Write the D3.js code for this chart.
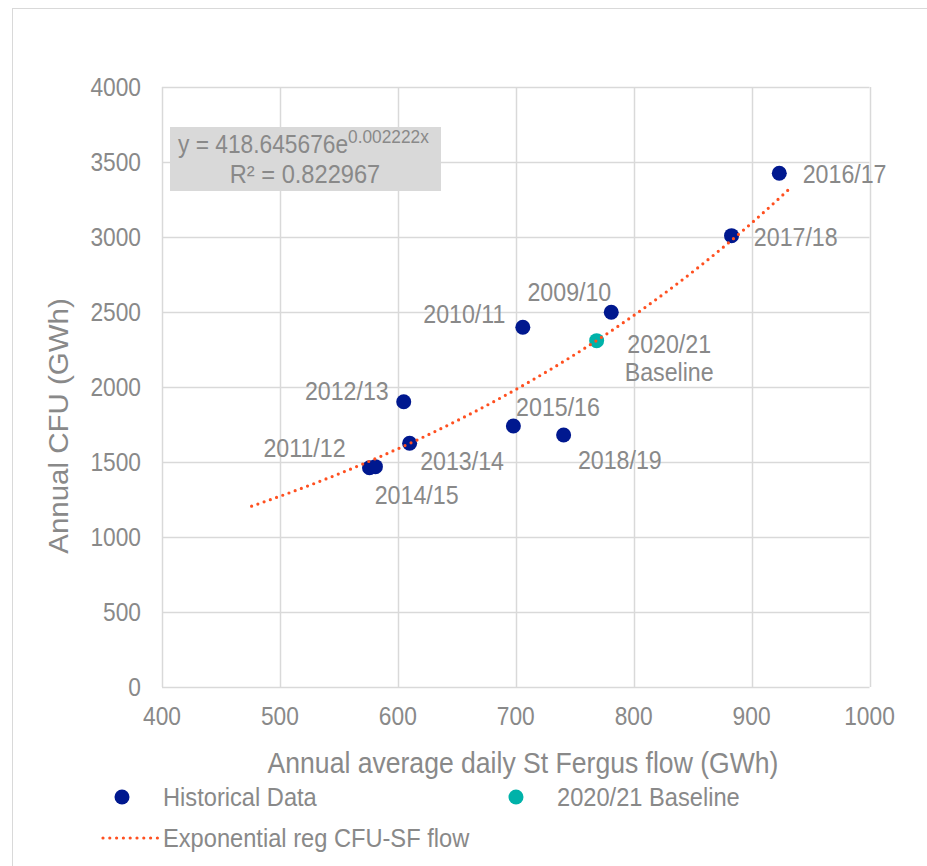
<!DOCTYPE html>
<html>
<head>
<meta charset="utf-8">
<script src="https://cdn.jsdelivr.net/npm/d3@7"></script>
<style>
  body { margin: 0; background: #fff; }
  svg text { font-family: "Liberation Sans", Arial, sans-serif; fill: #898989; }
</style>
</head>
<body>
<svg id="chart" width="927" height="866"></svg>
<script>
// data
const seasons   = ["2009/10", "2010/11", "2011/12", "2012/13", "2013/14", "2014/15", "2015/16", "2016/17", "2017/18", "2018/19"];
const sfFlow    = [781, 706, 576, 605, 610, 581, 698, 923.5, 883, 740.6];
const cfu       = [2498, 2398, 1462, 1902, 1625, 1469, 1740, 3425, 3009, 1680];
const baseLabel = ["2020/21", "Baseline"];
const baseFlow  = [768.6];
const baseCfu   = [2309];
const xTicks    = [400, 500, 600, 700, 800, 900, 1000];
const yTicks    = [0, 500, 1000, 1500, 2000, 2500, 3000, 3500, 4000];
const FIT_A     = 418.645676;   // y = A * e^(B x)
const FIT_B     = 0.002222;
const FIT_R2    = 0.822967;
const fitRange  = [476, 934];

// layout
const PLOT = { left: 162, right: 869.5, top: 87, bottom: 687 };
const NAVY = "#00188F";
const TEAL = "#00B2A9";
const ORANGE = "#FF5020";
const GRID = "#D9D9D9";
const DOT_R = 7.5;
const SQ = 0.91;      // text in the source is slightly narrow
const LABEL_POS = {   // dx, dy from marker centre, anchor
  "2009/10": [0, -20, "end"],
  "2010/11": [-17.5, -13, "end"],
  "2011/12": [-24, -19.5, "end"],
  "2012/13": [-15, -10.5, "end"],
  "2013/14": [10.5, 17.5, "start"],
  "2014/15": [-0.7, 28.3, "start"],
  "2015/16": [2.7, -19.3, "start"],
  "2016/17": [23.4, 0.7, "start"],
  "2017/18": [22.3, 1, "start"],
  "2018/19": [14.3, 25, "start"]
};

const svg = d3.select("#chart");

const x = d3.scaleLinear().domain([400, 1000]).range([PLOT.left, PLOT.right]);
const y = d3.scaleLinear().domain([0, 4000]).range([PLOT.bottom, PLOT.top]);

// text helper: vertically centred, narrowed horizontally
function addText(parent, tx, ty, str, size, anchor) {
  return parent.append("text")
      .attr("transform", `translate(${tx},${ty}) scale(${SQ},1)`)
      .attr("dy", "0.35em")
      .attr("text-anchor", anchor || "start")
      .style("font-size", size + "px")
      .text(str);
}

// outer frame
svg.append("rect")
    .attr("x", 12.5).attr("y", 8.5)
    .attr("width", 940).attr("height", 880)
    .attr("fill", "none").attr("stroke", GRID);

// gridlines
svg.append("g").selectAll("line").data(yTicks).join("line")
    .attr("x1", PLOT.left).attr("x2", PLOT.right)
    .attr("y1", d => Math.round(y(d)) + 0.5).attr("y2", d => Math.round(y(d)) + 0.5)
    .attr("stroke", GRID).attr("stroke-width", 1.5);
svg.append("g").selectAll("line").data(xTicks).join("line")
    .attr("y1", PLOT.top).attr("y2", PLOT.bottom)
    .attr("x1", d => Math.round(x(d)) + 0.5).attr("x2", d => Math.round(x(d)) + 0.5)
    .attr("stroke", GRID).attr("stroke-width", 1.5);

// tick labels
const yLab = svg.append("g");
yTicks.forEach(d => addText(yLab, 141, y(d), d, 25, "end"));
const xLab = svg.append("g");
xTicks.forEach(d => addText(xLab, x(d), 716, d, 25, "middle"));

// axis titles
addText(svg, 523, 763, "Annual average daily St Fergus flow (GWh)", 29.2, "middle");
svg.append("text")
    .attr("transform", `translate(59,426) rotate(-90) scale(1,${SQ})`)
    .attr("dy", "0.35em")
    .attr("text-anchor", "middle").style("font-size", "29.5px")
    .text("Annual CFU (GWh)");

// historical points
const pts = seasons.map((s, i) => ({ s, fx: sfFlow[i], c: cfu[i] }));
svg.append("g").selectAll("circle").data(pts).join("circle")
    .attr("cx", d => x(d.fx)).attr("cy", d => y(d.c))
    .attr("r", DOT_R).attr("fill", NAVY);

// baseline point
svg.append("circle")
    .attr("cx", x(baseFlow[0])).attr("cy", y(baseCfu[0]))
    .attr("r", DOT_R).attr("fill", TEAL);

// exponential trendline (from the fitted equation)
const fitX = d3.range(fitRange[0], fitRange[1] + 0.1, 2);
const line = d3.line().x(d => x(d)).y(d => y(FIT_A * Math.exp(FIT_B * d)));
svg.append("path")
    .datum(fitX)
    .attr("d", line)
    .attr("fill", "none")
    .attr("stroke", ORANGE)
    .attr("stroke-width", 3.2)
    .attr("stroke-linecap", "round")
    .attr("stroke-dasharray", "0 6.6");

// data labels
const labels = svg.append("g");
pts.forEach(d => {
  const p = LABEL_POS[d.s];
  addText(labels, x(d.fx) + p[0], y(d.c) + p[1], d.s, 25.5, p[2]);
});
baseLabel.forEach((d, i) =>
  addText(labels, x(baseFlow[0]) + 72.5, y(baseCfu[0]) + 3.5 + i * 28, d, 25.5, "middle"));

// equation box
svg.append("rect")
    .attr("x", 170).attr("y", 127).attr("width", 271).attr("height", 64)
    .attr("fill", "#D9D9D9");
const eq = svg.append("text")
    .attr("transform", `translate(178,153) scale(${SQ},1)`)
    .style("font-size", "25px");
eq.append("tspan").text("y = " + FIT_A.toFixed(6) + "e");
eq.append("tspan").attr("dy", -10).style("font-size", "19px").text(FIT_B.toFixed(6) + "x");
svg.append("text")
    .attr("transform", `translate(305,183) scale(${SQ},1)`)
    .attr("text-anchor", "middle")
    .style("font-size", "26px")
    .text("R\u00B2 = " + FIT_R2.toFixed(6));

// legend
const legend = svg.append("g");
legend.append("circle").attr("cx", 122).attr("cy", 797).attr("r", DOT_R).attr("fill", NAVY);
addText(legend, 163, 797, "Historical Data", 26);
legend.append("circle").attr("cx", 516).attr("cy", 797).attr("r", DOT_R).attr("fill", TEAL);
addText(legend, 557, 797, baseLabel.join(" "), 26);
legend.append("line")
    .attr("x1", 103).attr("x2", 158).attr("y1", 838).attr("y2", 838)
    .attr("stroke", ORANGE).attr("stroke-width", 3.2)
    .attr("stroke-linecap", "round").attr("stroke-dasharray", "0 6.8");
addText(legend, 163, 838, "Exponential reg CFU-SF flow", 26);
</script>
</body>
</html>
